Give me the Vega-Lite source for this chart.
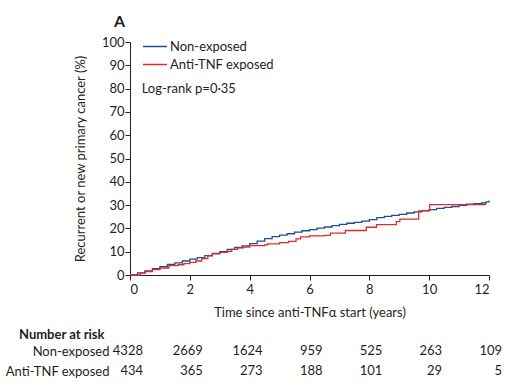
{
  "$schema": "https://vega.github.io/schema/vega-lite/v6.json",
  "padding": {"left": 5, "top": 14, "right": 5, "bottom": 5},
  "background": "white",
  "config": {
    "font": "Lato",
    "view": {"stroke": null},
    "axis": {
      "domainColor": "#231f20",
      "tickColor": "#231f20",
      "labelColor": "#231f20",
      "titleColor": "#231f20",
      "labelFontSize": 13,
      "titleFontSize": 13,
      "titleFontWeight": "normal",
      "tickSize": 5,
      "grid": false,
      "labelOverlap": false,
      "labelFont": "Lato",
      "titleFont": "Lato"
    },
    "legend": {"labelFont": "Lato", "labelFontSize": 13, "labelColor": "#231f20"}
  },
  "datasets": {
    "km": [
      {"group": "Non-exposed", "time": 0, "pct": 0},
      {"group": "Non-exposed", "time": 0.25, "pct": 0.9},
      {"group": "Non-exposed", "time": 0.5, "pct": 1.8},
      {"group": "Non-exposed", "time": 0.75, "pct": 2.7},
      {"group": "Non-exposed", "time": 1.0, "pct": 3.6},
      {"group": "Non-exposed", "time": 1.25, "pct": 4.5},
      {"group": "Non-exposed", "time": 1.5, "pct": 5.2},
      {"group": "Non-exposed", "time": 1.75, "pct": 6.0},
      {"group": "Non-exposed", "time": 2.0, "pct": 6.8},
      {"group": "Non-exposed", "time": 2.25, "pct": 7.5},
      {"group": "Non-exposed", "time": 2.5, "pct": 8.3},
      {"group": "Non-exposed", "time": 2.75, "pct": 9.1},
      {"group": "Non-exposed", "time": 3.0, "pct": 10.0},
      {"group": "Non-exposed", "time": 3.25, "pct": 11.0},
      {"group": "Non-exposed", "time": 3.5, "pct": 11.8},
      {"group": "Non-exposed", "time": 3.75, "pct": 12.5},
      {"group": "Non-exposed", "time": 4.0, "pct": 13.5},
      {"group": "Non-exposed", "time": 4.25, "pct": 14.5},
      {"group": "Non-exposed", "time": 4.5, "pct": 15.6},
      {"group": "Non-exposed", "time": 4.75, "pct": 16.5},
      {"group": "Non-exposed", "time": 5.0, "pct": 17.1},
      {"group": "Non-exposed", "time": 5.25, "pct": 17.7},
      {"group": "Non-exposed", "time": 5.5, "pct": 18.4},
      {"group": "Non-exposed", "time": 5.75, "pct": 19.0},
      {"group": "Non-exposed", "time": 6.0, "pct": 19.5},
      {"group": "Non-exposed", "time": 6.25, "pct": 20.1},
      {"group": "Non-exposed", "time": 6.5, "pct": 20.6},
      {"group": "Non-exposed", "time": 6.75, "pct": 21.2},
      {"group": "Non-exposed", "time": 7.0, "pct": 21.7},
      {"group": "Non-exposed", "time": 7.25, "pct": 22.2},
      {"group": "Non-exposed", "time": 7.5, "pct": 22.6},
      {"group": "Non-exposed", "time": 7.75, "pct": 23.1},
      {"group": "Non-exposed", "time": 8.0, "pct": 23.8},
      {"group": "Non-exposed", "time": 8.25, "pct": 24.6},
      {"group": "Non-exposed", "time": 8.5, "pct": 25.2},
      {"group": "Non-exposed", "time": 8.75, "pct": 25.6},
      {"group": "Non-exposed", "time": 9.0, "pct": 26.0},
      {"group": "Non-exposed", "time": 9.25, "pct": 26.6},
      {"group": "Non-exposed", "time": 9.5, "pct": 27.1},
      {"group": "Non-exposed", "time": 9.75, "pct": 27.6},
      {"group": "Non-exposed", "time": 10.0, "pct": 28.1},
      {"group": "Non-exposed", "time": 10.25, "pct": 28.6},
      {"group": "Non-exposed", "time": 10.5, "pct": 29.0},
      {"group": "Non-exposed", "time": 10.75, "pct": 29.4},
      {"group": "Non-exposed", "time": 11.0, "pct": 29.9},
      {"group": "Non-exposed", "time": 11.25, "pct": 30.4},
      {"group": "Non-exposed", "time": 11.5, "pct": 30.6},
      {"group": "Non-exposed", "time": 11.75, "pct": 30.9},
      {"group": "Non-exposed", "time": 11.9, "pct": 31.4},
      {"group": "Non-exposed", "time": 12.0, "pct": 32.0},
      {"group": "Anti-TNF exposed", "time": 0, "pct": 0},
      {"group": "Anti-TNF exposed", "time": 0.35, "pct": 0.8},
      {"group": "Anti-TNF exposed", "time": 0.5, "pct": 1.5},
      {"group": "Anti-TNF exposed", "time": 0.75, "pct": 2.3},
      {"group": "Anti-TNF exposed", "time": 1.0, "pct": 3.0},
      {"group": "Anti-TNF exposed", "time": 1.3, "pct": 4.0},
      {"group": "Anti-TNF exposed", "time": 1.6, "pct": 4.4},
      {"group": "Anti-TNF exposed", "time": 1.8, "pct": 4.9},
      {"group": "Anti-TNF exposed", "time": 2.0, "pct": 5.4},
      {"group": "Anti-TNF exposed", "time": 2.2, "pct": 6.0},
      {"group": "Anti-TNF exposed", "time": 2.4, "pct": 7.0},
      {"group": "Anti-TNF exposed", "time": 2.6, "pct": 8.2},
      {"group": "Anti-TNF exposed", "time": 2.75, "pct": 9.3},
      {"group": "Anti-TNF exposed", "time": 3.0, "pct": 9.7},
      {"group": "Anti-TNF exposed", "time": 3.25, "pct": 10.1},
      {"group": "Anti-TNF exposed", "time": 3.4, "pct": 11.0},
      {"group": "Anti-TNF exposed", "time": 3.6, "pct": 11.6},
      {"group": "Anti-TNF exposed", "time": 3.8, "pct": 12.0},
      {"group": "Anti-TNF exposed", "time": 4.0, "pct": 12.6},
      {"group": "Anti-TNF exposed", "time": 4.5, "pct": 12.9},
      {"group": "Anti-TNF exposed", "time": 4.6, "pct": 13.4},
      {"group": "Anti-TNF exposed", "time": 5.0, "pct": 13.9},
      {"group": "Anti-TNF exposed", "time": 5.3, "pct": 14.4},
      {"group": "Anti-TNF exposed", "time": 5.55, "pct": 15.5},
      {"group": "Anti-TNF exposed", "time": 5.7, "pct": 16.4},
      {"group": "Anti-TNF exposed", "time": 6.0, "pct": 16.8},
      {"group": "Anti-TNF exposed", "time": 6.5, "pct": 17.0},
      {"group": "Anti-TNF exposed", "time": 6.7, "pct": 18.0},
      {"group": "Anti-TNF exposed", "time": 7.2, "pct": 19.1},
      {"group": "Anti-TNF exposed", "time": 7.9, "pct": 20.5},
      {"group": "Anti-TNF exposed", "time": 8.24, "pct": 21.6},
      {"group": "Anti-TNF exposed", "time": 8.9, "pct": 22.9},
      {"group": "Anti-TNF exposed", "time": 9.02, "pct": 24.0},
      {"group": "Anti-TNF exposed", "time": 9.65, "pct": 27.5},
      {"group": "Anti-TNF exposed", "time": 10.02, "pct": 30.2},
      {"group": "Anti-TNF exposed", "time": 11.9, "pct": 30.2}
    ],
    "risk": [
      {"group": "Non-exposed", "time": 0, "n": 4328},
      {"group": "Non-exposed", "time": 2, "n": 2669},
      {"group": "Non-exposed", "time": 4, "n": 1624},
      {"group": "Non-exposed", "time": 6, "n": 959},
      {"group": "Non-exposed", "time": 8, "n": 525},
      {"group": "Non-exposed", "time": 10, "n": 263},
      {"group": "Non-exposed", "time": 12, "n": 109},
      {"group": "Anti-TNF exposed", "time": 0, "n": 434},
      {"group": "Anti-TNF exposed", "time": 2, "n": 365},
      {"group": "Anti-TNF exposed", "time": 4, "n": 273},
      {"group": "Anti-TNF exposed", "time": 6, "n": 188},
      {"group": "Anti-TNF exposed", "time": 8, "n": 101},
      {"group": "Anti-TNF exposed", "time": 10, "n": 29},
      {"group": "Anti-TNF exposed", "time": 12, "n": 5}
    ],
    "note": [
      {"label": "Log-rank p=0·35"}
    ]
  },
  "spacing": 10,
  "resolve": {"scale": {"x": "independent", "y": "independent", "color": "independent"}},
  "vconcat": [
    {
      "width": 359,
      "height": 233,
      "title": {"text": "A", "anchor": "start", "frame": "group", "dx": -16, "fontSize": 16, "fontWeight": "bold", "font": "Lato", "color": "#231f20", "offset": 6},
      "layer": [
        {
          "data": {"name": "km"},
          "mark": {"type": "line", "interpolate": "step-after", "strokeWidth": 1.3},
          "encoding": {
            "x": {"field": "time", "type": "quantitative", "scale": {"domain": [0, 12], "nice": false},
              "axis": {"values": [0, 2, 4, 6, 8, 10, 12], "title": "Time since anti-TNFα start (years)", "titlePadding": 10, "labelPadding": 3}},
            "y": {"field": "pct", "type": "quantitative", "scale": {"domain": [0, 100], "nice": false},
              "axis": {"values": [0, 10, 20, 30, 40, 50, 60, 70, 80, 90, 100], "tickCount": 11, "labelOverlap": false, "labelFlush": false, "labelBound": false, "title": "Recurrent or new primary cancer (%)", "titlePadding": 14, "labelPadding": 1}},
            "color": {"field": "group", "type": "nominal",
              "scale": {"domain": ["Non-exposed", "Anti-TNF exposed"], "range": ["#1d4f91", "#e02b2b"]},
              "legend": {"title": null, "orient": "none", "legendX": 12, "legendY": -2, "symbolType": "stroke", "symbolSize": 576, "symbolStrokeWidth": 1.3, "labelOffset": 2, "clipHeight": 13, "rowPadding": 4, "padding": 0}}
          }
        },
        {
          "data": {"name": "note"},
          "mark": {"type": "text", "align": "left", "baseline": "middle", "fontSize": 13, "font": "Lato", "color": "#231f20"},
          "encoding": {
            "x": {"datum": 0.39, "type": "quantitative"},
            "y": {"datum": 80, "type": "quantitative"},
            "text": {"field": "label", "type": "nominal"}
          }
        }
      ]
    },
    {
      "width": 359,
      "height": 40,
      "title": {"text": "Number at risk", "anchor": "start", "frame": "group", "dx": -111, "fontSize": 13, "fontWeight": "bold", "font": "Lato", "color": "#231f20", "offset": -1},
      "data": {"name": "risk"},
      "mark": {"type": "text", "align": "right", "baseline": "middle", "dx": 13, "fontSize": 13, "font": "Lato", "color": "#231f20"},
      "encoding": {
        "x": {"field": "time", "type": "quantitative", "scale": {"domain": [0, 12], "nice": false}, "axis": null},
        "y": {"field": "group", "type": "nominal", "sort": ["Non-exposed", "Anti-TNF exposed"],
          "axis": {"title": null, "domain": false, "ticks": false, "labelPadding": 21, "labelFontSize": 13}},
        "text": {"field": "n", "type": "quantitative"}
      }
    }
  ]
}
